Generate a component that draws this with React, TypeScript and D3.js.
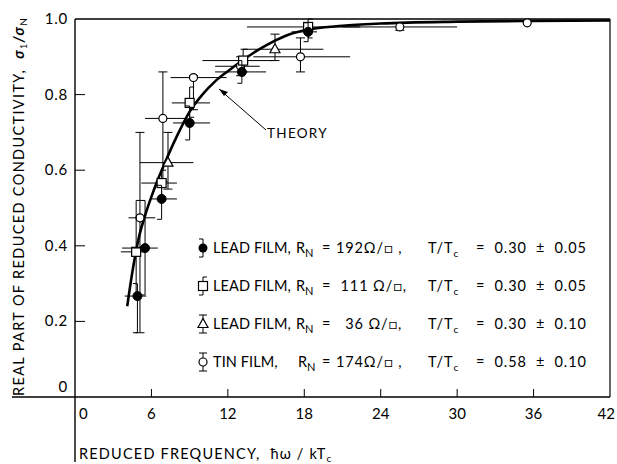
import React from "react";
import * as d3 from "d3";

// ---------- data ----------
const xTicks = [0, 6, 12, 18, 24, 30, 36, 42];
const yTicks = [0, 0.2, 0.4, 0.6, 0.8, 1.0];
const yTickLabels = ["0", "0.2", "0.4", "0.6", "0.8", "1.0"];

// theory curve [x, y]
const theory: [number, number][] = [
  [4.1, 0.24], [4.5, 0.33], [5.0, 0.42], [5.5, 0.48], [6.0, 0.53], [6.5, 0.575],
  [7.0, 0.615], [8.0, 0.69], [9.0, 0.755], [10.0, 0.8], [11.0, 0.835], [12.0, 0.862],
  [13.0, 0.887], [14.0, 0.91], [15.0, 0.93], [16.5, 0.955], [18.0, 0.97], [21.0, 0.982],
  [24.0, 0.988], [30.0, 0.993], [36.0, 0.995], [42.0, 0.996],
];

// [x, y, xlo, xhi, ylo, yhi]
type Pt = [number, number, number, number, number, number];
const leadFilm192: Pt[] = [
  [4.9, 0.267, 3.9, 5.6, 0.17, 0.3],
  [5.5, 0.394, 3.7, 6.5, 0.27, 0.52],
  [6.8, 0.524, 6.0, 8.0, 0.47, 0.56],
  [9.0, 0.725, 7.7, 10.6, 0.68, 0.77],
  [13.1, 0.86, 11.0, 15.0, 0.83, 0.89],
  [18.3, 0.966, 17.0, 19.0, 0.94, 0.99],
];
const leadFilm111: Pt[] = [
  [4.8, 0.384, 3.6, 5.6, 0.27, 0.52],
  [6.8, 0.566, 5.2, 8.0, 0.53, 0.6],
  [9.0, 0.778, 7.6, 10.6, 0.74, 0.82],
  [13.2, 0.89, 10.0, 15.5, 0.86, 0.92],
  [18.3, 0.979, 13.5, 22.4, 0.95, 1.0],
];
const leadFilm36: Pt[] = [
  [7.3, 0.62, 5.1, 9.3, 0.55, 0.7],
  [15.7, 0.92, 13.0, 19.5, 0.89, 0.96],
];
const tinFilm174: Pt[] = [
  [5.1, 0.474, 4.2, 6.3, 0.17, 0.7],
  [6.9, 0.737, 5.5, 8.7, 0.57, 0.86],
  [9.3, 0.845, 7.5, 11.9, 0.76, 0.85],
  [13.0, 0.875, 11.0, 14.5, 0.85, 0.9],
  [17.7, 0.9, 14.0, 21.6, 0.86, 0.95],
  [25.5, 0.979, 21.0, 30.0, 0.97, 0.99],
  [35.5, 0.99, 35.5, 35.5, 0.99, 0.99],
];

const legendNames = ["LEAD FILM,", "LEAD FILM,", "LEAD FILM,", "TIN FILM,"];
const legendR = ["= 192\u03A9/\u25A1 ,", "=  111 \u03A9/\u25A1,", "=   36 \u03A9/\u25A1,", "= 174\u03A9/\u25A1 ,"];
const legendT = ["=  0.30  \u00B1  0.05", "=  0.30  \u00B1  0.05", "=  0.30  \u00B1  0.10", "=  0.58  \u00B1  0.10"];

// ---------- layout ----------
const W = 617, H = 464;
const x = d3.scaleLinear().domain([0, 42]).range([75, 610]);
const y = d3.scaleLinear().domain([0, 1]).range([397, 19]);
const FONT = "Lato, 'DejaVu Sans', sans-serif";

type Kind = "filled" | "square" | "triangle" | "circle";

function Marker({ kind, cx, cy }: { kind: Kind; cx: number; cy: number }) {
  if (kind === "filled") return <circle cx={cx} cy={cy} r={4.5} fill="#000" />;
  if (kind === "circle") return <circle cx={cx} cy={cy} r={4} fill="#fff" stroke="#000" strokeWidth={1.2} />;
  if (kind === "square") return <rect x={cx - 4.5} y={cy - 4.5} width={9} height={9} fill="#fff" stroke="#000" strokeWidth={1.2} />;
  return <path d={`M${cx},${cy - 5.5}L${cx + 5},${cy + 3.5}L${cx - 5},${cy + 3.5}Z`} fill="#fff" stroke="#000" strokeWidth={1.2} />;
}

function Series({ data, kind, capDir }: { data: Pt[]; kind: Kind; capDir: number }) {
  return (
    <g>
      {data.map((d, i) => {
        const cx = x(d[0]), cy = y(d[1]);
        const capL = capDir <= 0 ? -4.5 : 0;
        const capR = capDir >= 0 ? 4.5 : 0;
        return (
          <g key={i} stroke="#000" strokeWidth={1} fill="none">
            {d[2] !== d[3] && <line x1={x(d[2])} x2={x(d[3])} y1={cy} y2={cy} />}
            {d[4] !== d[5] && (
              <>
                <line x1={cx} x2={cx} y1={y(d[4])} y2={y(d[5])} />
                <line x1={cx + capL} x2={cx + capR} y1={y(d[4])} y2={y(d[4])} />
                <line x1={cx + capL} x2={cx + capR} y1={y(d[5])} y2={y(d[5])} />
              </>
            )}
            <Marker kind={kind} cx={cx} cy={cy} />
          </g>
        );
      })}
    </g>
  );
}

const pre = { whiteSpace: "pre" as const };

export default function App() {
  const line = d3.line<[number, number]>().x((d) => x(d[0])).y((d) => y(d[1])).curve(d3.curveMonotoneX);
  const legendKinds: Kind[] = ["filled", "square", "triangle", "circle"];
  const legendY = [253, 291, 329, 367];
  return (
    <svg width={W} height={H} style={{ position: "absolute", left: 0, top: 0, background: "#fff" }} fontFamily={FONT}>
      {/* frame */}
      <g stroke="#000" fill="none">
        <line x1={75} x2={610} y1={19} y2={19} strokeWidth={1.6} />
        <line x1={610} x2={610} y1={19} y2={397} strokeWidth={1.2} />
        <line x1={12} x2={610} y1={397} y2={397} strokeWidth={1.4} />
        <line x1={75} x2={75} y1={19} y2={462} strokeWidth={1.4} />
      </g>
      {/* ticks */}
      {yTicks.slice(1, -1).map((t) => (
        <line key={t} x1={75} x2={85} y1={y(t)} y2={y(t)} stroke="#000" strokeWidth={1} />
      ))}
      {xTicks.slice(1, -1).map((t) => (
        <line key={t} x1={x(t)} x2={x(t)} y1={397} y2={389} stroke="#000" strokeWidth={1} />
      ))}
      {yTicks.map((t, i) => (
        <text key={t} x={68} y={i === 0 ? 392 : y(t) + 5} textAnchor="end" fontSize={15} letterSpacing={0.8}>
          {yTickLabels[i]}
        </text>
      ))}
      {xTicks.map((t, i) => (
        <text key={t} x={i === 0 ? 79 : i === xTicks.length - 1 ? 615 : x(t)} y={419}
          textAnchor={i === 0 ? "start" : i === xTicks.length - 1 ? "end" : "middle"} fontSize={15}>
          {t}
        </text>
      ))}
      {/* axis titles */}
      <text transform="translate(24,396) rotate(-90)" fontSize={14.5} letterSpacing={1.35} style={pre}>
        {"REAL PART OF REDUCED CONDUCTIVITY,  "}
        <tspan fontStyle="italic" fontWeight="bold">{"\u03C3"}</tspan>
        <tspan fontSize={9} dy={3}>1</tspan>
        <tspan dy={-3} fontStyle="italic" fontWeight="bold">{"/\u03C3"}</tspan>
        <tspan fontSize={10} dy={3}>N</tspan>
      </text>
      <text x={79} y={459} fontSize={14.5} letterSpacing={1.2} style={pre}>
        {"REDUCED FREQUENCY,  \u0127\u03C9 / kT"}
        <tspan fontSize={10} dy={3}>c</tspan>
      </text>
      {/* theory */}
      <path d={line(theory) || ""} fill="none" stroke="#000" strokeWidth={2.6} />
      <text x={267} y={138} fontSize={13.5} letterSpacing={1.3}>THEORY</text>
      <line x1={266} y1={130} x2={219} y2={89} stroke="#000" strokeWidth={1} />
      <path d="M219,89 L228,92 L224,96 Z" fill="#000" />
      {/* data */}
      <Series data={tinFilm174} kind="circle" capDir={0} />
      <Series data={leadFilm36} kind="triangle" capDir={0} />
      <Series data={leadFilm111} kind="square" capDir={1} />
      <Series data={leadFilm192} kind="filled" capDir={-1} />
      {/* legend */}
      {legendKinds.map((k, i) => {
        const cy = legendY[i] - 5;
        return (
          <g key={k}>
            <g stroke="#000" strokeWidth={1}>
              <line x1={203} x2={203} y1={cy - 9} y2={cy + 9} />
              <line x1={k === "filled" ? 199 : k === "square" ? 203 : 199} x2={k === "filled" ? 203 : k === "square" ? 207 : 207} y1={cy - 9} y2={cy - 9} />
              <line x1={199} x2={k === "filled" || k === "square" ? 203 : 207} y1={cy + 9} y2={cy + 9} />
            </g>
            <Marker kind={k} cx={203} cy={cy} />
            <text y={legendY[i]} fontSize={14.5} style={pre}>
              <tspan x={213} letterSpacing={0.1}>{legendNames[i]}</tspan>
              <tspan x={i === 3 ? 298 : 296}>R</tspan>
              <tspan fontSize={11} dy={4}>N</tspan>
              <tspan x={322} dy={-4} letterSpacing={0.9}>{legendR[i]}</tspan>
              <tspan x={428} letterSpacing={0.9}>T/T</tspan>
              <tspan fontSize={10} dy={4}>c</tspan>
              <tspan x={476} dy={-4} letterSpacing={0.9}>{legendT[i]}</tspan>
            </text>
          </g>
        );
      })}
    </svg>
  );
}
